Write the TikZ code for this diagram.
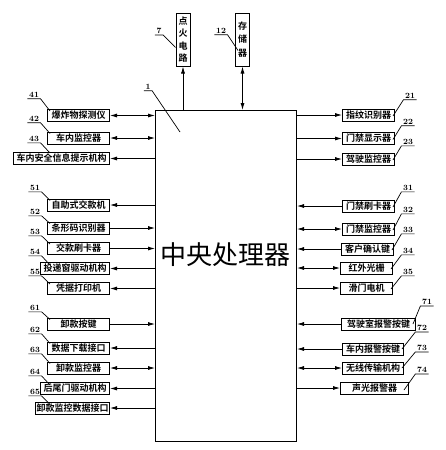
\documentclass[tikz,border=0pt]{standalone}
\usepackage{fontspec}
\newfontfamily\cjk{Noto Sans CJK SC}[BoldFont={* Bold}]
\usetikzlibrary{shapes,arrows.meta,positioning}
\tikzset{
block/.style={rectangle, draw, line width=1pt, text centered, inner xsep=3pt, inner ysep=1pt, minimum height=12pt, font=\cjk\bfseries\fontsize{9}{9}\selectfont},
lblock/.style={block, anchor=east, minimum width=62pt},
rblock/.style={block, anchor=west, minimum width=52pt},
vblock/.style={rectangle, draw, line width=1pt, align=center, inner sep=1pt, minimum width=14pt, minimum height=53pt},
num/.style={inner xsep=1.5pt, inner ysep=1pt, font=\bfseries\fontsize{8}{8}\selectfont},
lead/.style={draw, line width=0.7pt},
line/.style={draw, line width=0.8pt, -{Latex[length=7pt,width=4pt]}},
dline/.style={draw, line width=0.8pt, {Latex[length=7pt,width=4pt]}-{Latex[length=7pt,width=4pt]}}
}

\begin{document}
\begin{tikzpicture}[x=1pt, y=-1pt]
    \useasboundingbox (0,0) rectangle (446,450);
    % Place nodes
    \node [draw, line width=1pt, anchor=north west, minimum width=141pt, minimum height=331pt] (cpu) at (155,110) {};
    \node [font=\cjk\fontsize{26}{26}\selectfont] (cpuname) at (225.5,255) {中央处理器};
    \node [vblock, font=\cjk\bfseries\fontsize{9}{12.5}\selectfont] (b7) at (183,39.5) {点\\火\\电\\路};
    \node [vblock, font=\cjk\bfseries\fontsize{9}{13.5}\selectfont] (b12) at (242.5,39.5) {存\\储\\器};
    % left column
    \node [lblock] (b41) at (110,115.5) {爆炸物探测仪};
    \node [lblock] (b42) at (110,138) {车内监控器};
    \node [lblock] (b43) at (110,158.5) {车内安全信息提示机构};
    \node [lblock] (b51) at (110,205) {自助式交款机};
    \node [lblock] (b52) at (110,228) {条形码识别器};
    \node [lblock] (b53) at (110,248.5) {交款刷卡器};
    \node [lblock] (b54) at (110,268.5) {投递窗驱动机构};
    \node [lblock] (b55) at (110,288.5) {凭据打印机};
    \node [lblock] (b61) at (110,324) {卸款按键};
    \node [lblock] (b62) at (110,348) {数据下载接口};
    \node [lblock] (b63) at (110,368) {卸款监控器};
    \node [lblock] (b64) at (110,388.5) {后尾门驱动机构};
    \node [lblock, inner xsep=1pt] (b65) at (110,408) {卸款监控数据接口};
    % right column
    \node [rblock] (b21) at (342,115) {指纹识别器};
    \node [rblock] (b22) at (342,138.5) {门禁显示器};
    \node [rblock] (b23) at (342,159) {驾驶监控器};
    \node [rblock] (b31) at (342,206) {门禁刷卡器};
    \node [rblock] (b32) at (342,229) {门禁监控器};
    \node [rblock] (b33) at (341,249) {客户确认键};
    \node [rblock] (b34) at (340,268) {红外光栅};
    \node [rblock] (b35) at (340,288) {滑门电机};
    \node [rblock, minimum width=74pt] (b71) at (341,324) {驾驶室报警按键};
    \node [rblock, minimum width=61pt] (b72) at (342,349) {车内报警按键};
    \node [rblock, minimum width=61pt] (b73) at (342,368) {无线传输机构};
    \node [rblock, minimum width=68pt] (b74) at (340,388) {声光报警器};
    % reference numbers
    \coordinate (lx) at (50,0);
    \node [num] (l1) at (148,87) {1};
    \node [num] (l7) at (159,31) {7};
    \node [num] (l12) at (221,31) {12};
    \node [num] (l41) at (34,95) {41};
    \node [num] (l42) at (34,119) {42};
    \node [num] (l43) at (34,139) {43};
    \node [num] (l51) at (35,188) {51};
    \node [num] (l52) at (35,212) {52};
    \node [num] (l53) at (35,232) {53};
    \node [num] (l54) at (35,252) {54};
    \node [num] (l55) at (35,272) {55};
    \node [num] (l61) at (35,308) {61};
    \node [num] (l62) at (35,330) {62};
    \node [num] (l63) at (35,350) {63};
    \node [num] (l64) at (35,372) {64};
    \node [num] (l65) at (35,392) {65};
    \node [num] (l21) at (410,96) {21};
    \node [num] (l22) at (408,122) {22};
    \node [num] (l23) at (408,142) {23};
    \node [num] (l31) at (408,188) {31};
    \node [num] (l32) at (408,210) {32};
    \node [num] (l33) at (408,230) {33};
    \node [num] (l34) at (408,251) {34};
    \node [num] (l35) at (408,272) {35};
    \node [num] (l71) at (427,302) {71};
    \node [num] (l72) at (422,328) {72};
    \node [num] (l73) at (422,348) {73};
    \node [num] (l74) at (422,370) {74};
    % Draw edges
    \path [line] (cpu.north -| b7.south) -- (b7.south);
    \path [dline] (cpu.north -| b12.south) -- (b12.south);
    \path [dline] (b41.east) -- (cpu.west |- b41.east);
    \path [dline] (b42.east) -- (cpu.west |- b42.east);
    \path [line] (cpu.west |- b43.east) -- (b43.east);
    \path [line] (cpu.west |- b51.east) -- (b51.east);
    \path [line] (b52.east) -- (cpu.west |- b52.east);
    \path [line] (b53.east) -- (cpu.west |- b53.east);
    \path [line] (cpu.west |- b54.east) -- (b54.east);
    \path [line] (cpu.west |- b55.east) -- (b55.east);
    \path [line] (b61.east) -- (cpu.west |- b61.east);
    \path [line] (cpu.west |- b62.east) -- (b62.east);
    \path [dline] (b63.east) -- (cpu.west |- b63.east);
    \path [line] (cpu.west |- b64.east) -- (b64.east);
    \path [line] (cpu.west |- b65.east) -- (b65.east);
    \path [line] (cpu.east |- b21.west) -- (b21.west);
    \path [line] (cpu.east |- b22.west) -- (b22.west);
    \path [line] (cpu.east |- b23.west) -- (b23.west);
    \path [line] (b31.west) -- (cpu.east |- b31.west);
    \path [dline] (b32.west) -- (cpu.east |- b32.west);
    \path [line] (b33.west) -- (cpu.east |- b33.west);
    \path [dline] (b34.west) -- (cpu.east |- b34.west);
    \path [line] (cpu.east |- b35.west) -- (b35.west);
    \path [line] (b71.west) -- (cpu.east |- b71.west);
    \path [line] (b72.west) -- (cpu.east |- b72.west);
    \path [dline] (b73.west) -- (cpu.east |- b73.west);
    \path [line] (cpu.east |- b74.west) -- (b74.west);
    % leader lines
    \path [lead] (l1.south west) -- (l1.south east) -- ([xshift=25pt,yshift=-22pt]cpu.north west);
    \path [lead] (l7.south west) -- (l7.south east) -- ([yshift=-8pt]b7.west);
    \path [lead] (l12.south west) -- (l12.south east) -- ([xshift=3pt,yshift=-11pt]b12.west);
    \path [lead] (l41.south west) -- (l41.south east) -- ([yshift=-2pt]lx |- b41.north);
    \path [lead] (l42.south west) -- (l42.south east) -- ([yshift=-2pt]lx |- b42.north);
    \path [lead] (l43.south west) -- (l43.south east) -- ([yshift=-1pt]lx |- b43.north);
    \path [lead] (l51.south west) -- (l51.south east) -- ([yshift=-2pt]lx |- b51.north);
    \path [lead] (l52.south west) -- (l52.south east) -- ([yshift=-2pt]lx |- b52.north);
    \path [lead] (l53.south west) -- (l53.south east) -- ([yshift=-2pt]lx |- b53.north);
    \path [lead] (l54.south west) -- (l54.south east) -- ([yshift=-3pt]lx |- b54.north);
    \path [lead] (l55.south west) -- (l55.south east) -- ([yshift=-2pt]lx |- b55.north);
    \path [lead] (l61.south west) -- (l61.south east) -- ([yshift=-2pt]lx |- b61.north);
    \path [lead] (l62.south west) -- (l62.south east) -- ([yshift=-2pt]lx |- b62.north);
    \path [lead] (l63.south west) -- (l63.south east) -- ([yshift=-2pt]lx |- b63.north);
    \path [lead] (l64.south west) -- (l64.south east) -- ([yshift=-3pt]lx |- b64.north);
    \path [lead] (l65.south west) -- (l65.south east) -- ([yshift=-3pt]lx |- b65.north);
    \path [lead] (l21.south east) -- (l21.south west) -- ([xshift=-2pt,yshift=-1pt]b21.east);
    \path [lead] (l22.south east) -- (l22.south west) -- ([xshift=-2pt,yshift=-1pt]b22.east);
    \path [lead] (l23.south east) -- (l23.south west) -- ([xshift=-2pt,yshift=-1pt]b23.east);
    \path [lead] (l31.south east) -- (l31.south west) -- ([xshift=-2pt,yshift=-1pt]b31.east);
    \path [lead] (l32.south east) -- (l32.south west) -- ([xshift=-2pt,yshift=-1pt]b32.east);
    \path [lead] (l33.south east) -- (l33.south west) -- ([xshift=-2pt,yshift=-1pt]b33.east);
    \path [lead] (l34.south east) -- (l34.south west) -- ([xshift=-2pt,yshift=-1pt]b34.east);
    \path [lead] (l35.south east) -- (l35.south west) -- ([xshift=-2pt,yshift=-1pt]b35.east);
    \path [lead] (l71.south east) -- (l71.south west) -- ([xshift=-3pt]b71.east);
    \path [lead] (l72.south east) -- (l72.south west) -- ([xshift=-2pt]b72.east);
    \path [lead] (l73.south east) -- (l73.south west) -- ([xshift=-2pt]b73.east);
    \path [lead] (l74.south east) -- (l74.south west) -- ([xshift=-5pt,yshift=-2pt]b74.east);
\end{tikzpicture}
\end{document}
